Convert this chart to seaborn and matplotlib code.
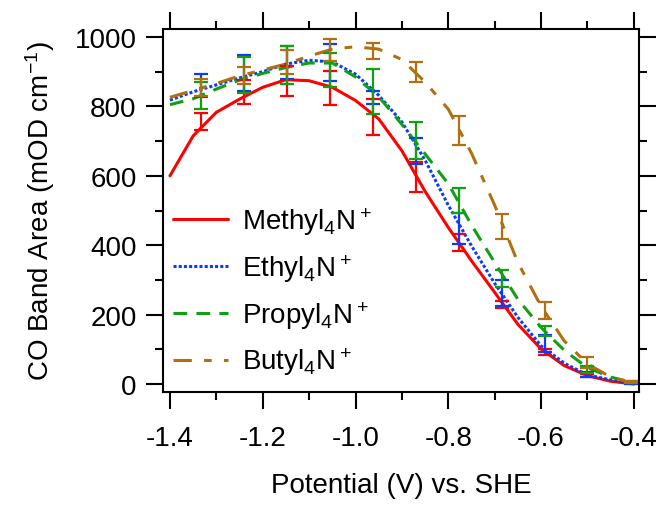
import numpy as np
import pandas as pd
import seaborn as sns
import matplotlib.pyplot as plt
from matplotlib.ticker import MultipleLocator

# data
potential = [-1.40, -1.35, -1.30, -1.25, -1.20, -1.15, -1.10, -1.05, -1.00, -0.95, -0.90,
             -0.85, -0.80, -0.75, -0.70, -0.65, -0.60, -0.55, -0.50, -0.45, -0.40]
methyl = [600, 715, 783, 821, 855, 877, 874, 855, 817, 764, 672,
          555, 451, 355, 264, 172, 101, 53, 24, 8, 0]
ethyl = [818, 842, 862, 882, 900, 922, 933, 928, 893, 832, 755,
         645, 515, 398, 290, 192, 110, 60, 26, 12, 2]
propyl = [805, 822, 850, 876, 895, 912, 925, 925, 885, 828, 748,
          663, 577, 458, 350, 244, 163, 97, 47, 20, 3]
butyl = [826, 846, 866, 888, 905, 922, 945, 965, 972, 965, 935,
         870, 792, 665, 515, 350, 224, 124, 58, 20, 3]

# error bar points
pot_err = [-1.332, -1.240, -1.147, -1.055, -0.962, -0.870, -0.777, -0.685, -0.592, -0.500, -0.407]
methyl_mean = [757, 842, 874, 853, 770, 596, 408, 230, 92, 25, 3]
methyl_sd = [24, 35, 43, 50, 52, 44, 24, 10, 8, 5, 3]
ethyl_mean = [860, 896, 927, 927, 826, 672, 448, 263, 116, 28, 3]
ethyl_sd = [33, 52, 48, 53, 19, 38, 45, 37, 25, 8, 3]
propyl_mean = [831, 890, 920, 905, 843, 702, 528, 305, 153, 42, 5]
propyl_sd = [38, 51, 55, 50, 65, 54, 36, 25, 15, 10, 3]
butyl_mean = [855, 889, 928, 963, 960, 899, 730, 454, 211, 62, 6]
butyl_sd = [25, 24, 35, 31, 23, 30, 41, 36, 24, 15, 4]

names = ['Methyl$_4$N$^+$', 'Ethyl$_4$N$^+$', 'Propyl$_4$N$^+$', 'Butyl$_4$N$^+$']
colors = ['#FF0000', '#0A3CFF', '#10A010', '#B0700F']

sns.set_theme(style='ticks')
plt.rcParams['font.family'] = ['Liberation Sans', 'DejaVu Sans']
plt.rcParams['mathtext.default'] = 'regular'
plt.rcParams['axes.unicode_minus'] = False
plt.rcParams['text.color'] = 'black'
plt.rcParams['axes.labelcolor'] = 'black'

df = pd.DataFrame({
    'Potential': potential * 4,
    'Area': methyl + ethyl + propyl + butyl,
    'Cation': [n for n in names for _ in potential],
})

fig = plt.figure(figsize=(6.58, 5.06), dpi=100)
ax = fig.add_axes([0.2477, 0.2233, 0.7234, 0.7174])

dash_map = {names[0]: '', names[1]: (1, 0.7), names[2]: (4.5, 3), names[3]: (6, 4, 2.5, 4)}
sns.lineplot(data=df, x='Potential', y='Area', hue='Cation', style='Cation',
             hue_order=names, style_order=names,
             palette=dict(zip(names, colors)), dashes=dash_map, linewidth=2.2, ax=ax)

means = [methyl_mean, ethyl_mean, propyl_mean, butyl_mean]
sds = [methyl_sd, ethyl_sd, propyl_sd, butyl_sd]
for m, s, c in zip(means, sds, colors):
    ax.errorbar(pot_err, m, yerr=s, fmt='none', ecolor=c, elinewidth=1.6,
                capsize=5, capthick=1.6)

ax.set_xlim(-1.415, -0.389)
ax.set_ylim(-23, 1023)
ax.xaxis.set_major_locator(MultipleLocator(0.2))
ax.xaxis.set_minor_locator(MultipleLocator(0.1))
ax.yaxis.set_major_locator(MultipleLocator(200))
ax.yaxis.set_minor_locator(MultipleLocator(100))
ax.xaxis.set_major_formatter(lambda v, p: f'{v:.1f}')
ax.tick_params(which='both', direction='out', top=True, right=True,
               labeltop=False, labelright=False, width=1.5, colors='black')
ax.tick_params(which='major', length=12, labelsize=20, pad=7)
ax.tick_params(which='minor', length=6)
ax.tick_params(axis='x', which='major', pad=12)
for sp in ax.spines.values():
    sp.set_linewidth(1.5)
    sp.set_color('black')

ax.set_xlabel('Potential (V) vs. SHE', fontsize=20, labelpad=15)
ax.set_ylabel('CO Band Area (mOD cm$^{-1}$)', fontsize=20, labelpad=13)

handles, labels = ax.get_legend_handles_labels()
ax.legend(handles[-4:], labels[-4:], loc='lower left', bbox_to_anchor=(0.02, 0.04),
          frameon=False, fontsize=20, handlelength=2.0, handletextpad=0.5,
          labelspacing=0.55, borderpad=0, borderaxespad=0)

fig.savefig('out.png', dpi=100)
